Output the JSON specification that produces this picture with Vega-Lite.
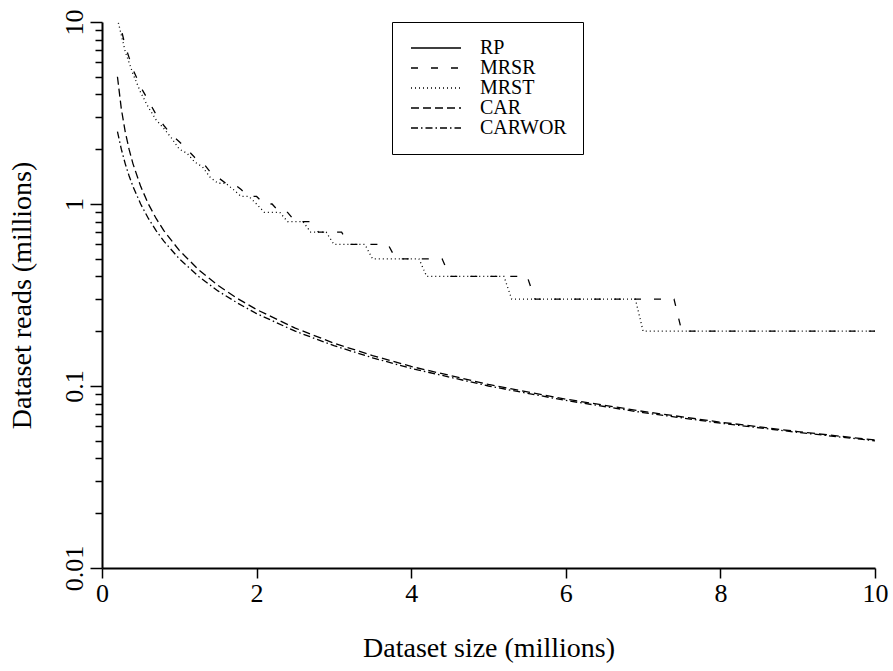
{
  "$schema": "https://vega.github.io/schema/vega-lite/v6.json",
  "width": 773,
  "height": 546,
  "autosize": {"type": "none"},
  "padding": {"left": 102, "top": 22, "right": 18, "bottom": 103},
  "background": "white",
  "config": {
    "font": "Liberation Serif",
    "view": {"stroke": null},
    "style": {
      "guide-label": {"font": "Liberation Serif", "fill": "black"},
      "guide-title": {"font": "Liberation Serif", "fill": "black", "fontWeight": "normal"}
    },
    "axis": {
      "domainColor": "black", "domainWidth": 2, "tickColor": "black", "tickWidth": 1.5,
      "grid": false, "labelFont": "Liberation Serif", "labelFontSize": 26, "labelColor": "black",
      "titleFont": "Liberation Serif", "titleFontSize": 28, "titleFontWeight": "normal", "titleColor": "black"
    },
    "legend": {
      "labelFont": "Liberation Serif", "labelFontSize": 20, "labelColor": "black"
    }
  },
  "data": {"values": [
    {"s":"MRST","x":0.2,"y":10.4},{"s":"MRST","x":0.3,"y":6.9},{"s":"MRST","x":0.4,"y":5.2},{"s":"MRST","x":0.5,"y":4.1},
    {"s":"MRST","x":0.6,"y":3.4},{"s":"MRST","x":0.7,"y":2.9},{"s":"MRST","x":0.8,"y":2.6},{"s":"MRST","x":0.9,"y":2.3},
    {"s":"MRST","x":1.0,"y":2.0},{"s":"MRST","x":1.1,"y":1.9},{"s":"MRST","x":1.2,"y":1.7},{"s":"MRST","x":1.3,"y":1.6},
    {"s":"MRST","x":1.4,"y":1.4},{"s":"MRST","x":1.5,"y":1.3},{"s":"MRST","x":1.6,"y":1.3},{"s":"MRST","x":1.7,"y":1.2},
    {"s":"MRST","x":1.8,"y":1.1},{"s":"MRST","x":1.9,"y":1.1},{"s":"MRST","x":2.0,"y":1.0},{"s":"MRST","x":2.1,"y":0.9},
    {"s":"MRST","x":2.3,"y":0.9},{"s":"MRST","x":2.4,"y":0.8},{"s":"MRST","x":2.6,"y":0.8},{"s":"MRST","x":2.7,"y":0.7},
    {"s":"MRST","x":2.9,"y":0.7},{"s":"MRST","x":3.0,"y":0.6},{"s":"MRST","x":3.4,"y":0.6},{"s":"MRST","x":3.5,"y":0.5},
    {"s":"MRST","x":4.1,"y":0.5},{"s":"MRST","x":4.2,"y":0.4},{"s":"MRST","x":5.2,"y":0.4},{"s":"MRST","x":5.3,"y":0.3},
    {"s":"MRST","x":6.9,"y":0.3},{"s":"MRST","x":7.0,"y":0.2},{"s":"MRST","x":10,"y":0.2},

    {"s":"MRSR","x":0.2,"y":11.1},{"s":"MRSR","x":0.3,"y":7.4},{"s":"MRSR","x":0.4,"y":5.5},{"s":"MRSR","x":0.5,"y":4.4},
    {"s":"MRSR","x":0.6,"y":3.7},{"s":"MRSR","x":0.7,"y":3.1},{"s":"MRSR","x":0.8,"y":2.7},{"s":"MRSR","x":0.9,"y":2.4},
    {"s":"MRSR","x":1.0,"y":2.2},{"s":"MRSR","x":1.1,"y":2.0},{"s":"MRSR","x":1.2,"y":1.8},{"s":"MRSR","x":1.3,"y":1.7},
    {"s":"MRSR","x":1.4,"y":1.5},{"s":"MRSR","x":1.5,"y":1.4},{"s":"MRSR","x":1.6,"y":1.3},{"s":"MRSR","x":1.7,"y":1.3},
    {"s":"MRSR","x":1.8,"y":1.2},{"s":"MRSR","x":1.9,"y":1.1},{"s":"MRSR","x":2.0,"y":1.1},{"s":"MRSR","x":2.1,"y":1.0},
    {"s":"MRSR","x":2.2,"y":1.0},{"s":"MRSR","x":2.3,"y":0.9},{"s":"MRSR","x":2.4,"y":0.9},{"s":"MRSR","x":2.5,"y":0.8},
    {"s":"MRSR","x":2.7,"y":0.8},{"s":"MRSR","x":2.8,"y":0.7},{"s":"MRSR","x":3.1,"y":0.7},{"s":"MRSR","x":3.2,"y":0.6},
    {"s":"MRSR","x":3.7,"y":0.6},{"s":"MRSR","x":3.8,"y":0.5},{"s":"MRSR","x":4.4,"y":0.5},{"s":"MRSR","x":4.5,"y":0.4},
    {"s":"MRSR","x":5.5,"y":0.4},{"s":"MRSR","x":5.6,"y":0.3},{"s":"MRSR","x":7.4,"y":0.3},{"s":"MRSR","x":7.5,"y":0.2},
    {"s":"MRSR","x":10,"y":0.2},

    {"s":"CAR","x":0.2,"y":5.0},{"s":"CAR","x":0.25,"y":3.333},{"s":"CAR","x":0.3,"y":2.5},{"s":"CAR","x":0.35,"y":2.0},
    {"s":"CAR","x":0.4,"y":1.667},{"s":"CAR","x":0.5,"y":1.25},{"s":"CAR","x":0.6,"y":1.0},{"s":"CAR","x":0.7,"y":0.833},
    {"s":"CAR","x":0.8,"y":0.714},{"s":"CAR","x":1.0,"y":0.556},{"s":"CAR","x":1.25,"y":0.435},{"s":"CAR","x":1.5,"y":0.357},
    {"s":"CAR","x":1.75,"y":0.303},{"s":"CAR","x":2.0,"y":0.263},{"s":"CAR","x":2.5,"y":0.208},{"s":"CAR","x":3.0,"y":0.172},
    {"s":"CAR","x":3.5,"y":0.147},{"s":"CAR","x":4.0,"y":0.128},{"s":"CAR","x":5.0,"y":0.102},{"s":"CAR","x":6.0,"y":0.0847},
    {"s":"CAR","x":7.0,"y":0.0725},{"s":"CAR","x":8.0,"y":0.0633},{"s":"CAR","x":9.0,"y":0.0562},{"s":"CAR","x":10,"y":0.0505},

    {"s":"CARWOR","x":0.2,"y":2.5},{"s":"CARWOR","x":0.25,"y":2.0},{"s":"CARWOR","x":0.3,"y":1.667},{"s":"CARWOR","x":0.35,"y":1.429},
    {"s":"CARWOR","x":0.4,"y":1.25},{"s":"CARWOR","x":0.5,"y":1.0},{"s":"CARWOR","x":0.6,"y":0.833},{"s":"CARWOR","x":0.7,"y":0.714},
    {"s":"CARWOR","x":0.8,"y":0.625},{"s":"CARWOR","x":1.0,"y":0.5},{"s":"CARWOR","x":1.25,"y":0.4},{"s":"CARWOR","x":1.5,"y":0.333},
    {"s":"CARWOR","x":1.75,"y":0.286},{"s":"CARWOR","x":2.0,"y":0.25},{"s":"CARWOR","x":2.5,"y":0.2},{"s":"CARWOR","x":3.0,"y":0.1667},
    {"s":"CARWOR","x":3.5,"y":0.1429},{"s":"CARWOR","x":4.0,"y":0.125},{"s":"CARWOR","x":5.0,"y":0.1},{"s":"CARWOR","x":6.0,"y":0.0833},
    {"s":"CARWOR","x":7.0,"y":0.0714},{"s":"CARWOR","x":8.0,"y":0.0625},{"s":"CARWOR","x":9.0,"y":0.0556},{"s":"CARWOR","x":10,"y":0.05}
  ]},
  "mark": {"type": "line", "color": "black", "strokeWidth": 1.3, "clip": true},
  "encoding": {
    "x": {
      "field": "x", "type": "quantitative",
      "scale": {"domain": [0, 10], "nice": false, "zero": false},
      "axis": {"values": [0, 2, 4, 6, 8, 10], "tickSize": 10, "labelPadding": 2, "title": "Dataset size (millions)", "titlePadding": 28, "labelFlush": false,
               "labelFont": "Liberation Serif", "titleFont": "Liberation Serif", "labelFontSize": 26, "titleFontSize": 28}
    },
    "y": {
      "field": "y", "type": "quantitative",
      "scale": {"type": "log", "domain": [0.01, 10], "nice": false},
      "axis": {
        "values": [0.01,0.02,0.03,0.04,0.05,0.06,0.07,0.08,0.09,0.1,0.2,0.3,0.4,0.5,0.6,0.7,0.8,0.9,1,2,3,4,5,6,7,8,9,10],
        "format": "~g",
        "labelExpr": "(datum.value == 0.01 || datum.value == 0.1 || datum.value == 1 || datum.value == 10) ? datum.label : ''",
        "tickSize": {"condition": {"test": "datum.value == 0.01 || datum.value == 0.1 || datum.value == 1 || datum.value == 10", "value": 12}, "value": 7},
        "labelAngle": -90, "labelAlign": "center", "labelBaseline": "bottom", "labelPadding": 3, "labelFlush": false, "labelOverlap": false,
        "title": "Dataset reads (millions)", "titlePadding": 25,
        "labelFont": "Liberation Serif", "titleFont": "Liberation Serif", "labelFontSize": 26, "titleFontSize": 28
      }
    },
    "strokeDash": {
      "field": "s", "type": "nominal",
      "scale": {"domain": ["RP", "MRSR", "MRST", "CAR", "CARWOR"], "range": [[1, 0], [7, 13], [1, 3], [8, 4], [7, 3, 1.5, 3]]},
      "legend": {
        "title": null, "orient": "none", "legendX": 290, "legendY": 0,
        "strokeColor": "black", "fillColor": "white", "padding": 16,
        "symbolType": "M-5,0H5", "symbolSize": 100, "symbolStrokeWidth": 1.3, "symbolStrokeColor": "black", "symbolFillColor": "transparent",
        "symbolOffset": 18,
        "labelOffset": 34, "rowPadding": -5, "labelLimit": 200, "labelFont": "Liberation Serif", "labelFontSize": 20
      }
    }
  }
}
